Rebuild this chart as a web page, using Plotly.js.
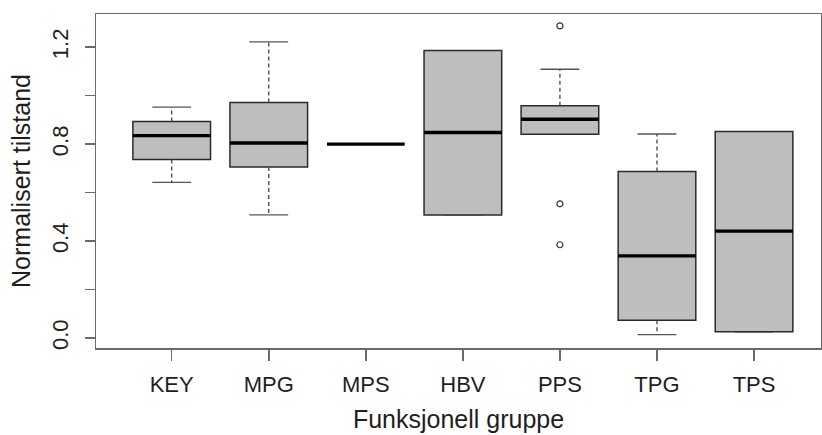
<!DOCTYPE html>
<html>
<head>
<meta charset="utf-8">
<script src="https://cdn.plot.ly/plotly-3.0.1.min.js"></script>
<style>html,body{margin:0;padding:0;background:#fff;}#chart{width:822px;height:435px;}</style>
</head>
<body>
<div id="chart"></div>
<script>
// Data
const categories = ["KEY", "MPG", "MPS", "HBV", "PPS", "TPG", "TPS"];
const lowerWhisker = [0.642, 0.508, 0.800, 0.508, 0.841, 0.014, 0.026];
const q1Values     = [0.737, 0.706, 0.800, 0.508, 0.841, 0.073, 0.026];
const medianValues = [0.835, 0.805, 0.800, 0.848, 0.903, 0.339, 0.441];
const q3Values     = [0.893, 0.972, 0.800, 1.186, 0.958, 0.687, 0.852];
const upperWhisker = [0.953, 1.222, 0.800, 1.186, 1.109, 0.842, 0.852];
const outlierCats  = ["PPS", "PPS", "PPS"];
const outlierVals  = [1.288, 0.554, 0.385];
const yTickVals    = [0.0, 0.2, 0.4, 0.6, 0.8, 1.0, 1.2];
const yTickText    = ["0.0", "", "0.4", "", "0.8", "", "1.2"];

const boxLine = "#2b2b2b";
const fontFam = "Liberation Sans, Arial, sans-serif";

// whiskers (dashed)
const wx = [], wy = [];
categories.forEach((c, i) => {
  if (upperWhisker[i] > q3Values[i]) { wx.push(c, c, null); wy.push(q3Values[i], upperWhisker[i], null); }
  if (lowerWhisker[i] < q1Values[i]) { wx.push(c, c, null); wy.push(q1Values[i], lowerWhisker[i], null); }
});

function flatBox(vals, width, lw, color) {
  return {
    type: "box", x: categories,
    q1: vals, median: vals, q3: vals, lowerfence: vals, upperfence: vals,
    width: width, whiskerwidth: 0, boxpoints: false,
    line: {color: color, width: lw}, fillcolor: "rgba(0,0,0,0)",
    hoverinfo: "skip", showlegend: false
  };
}

const traces = [
  {
    type: "scatter", mode: "lines", x: wx, y: wy,
    line: {color: "#444", width: 1.3, dash: "4px,3px"},
    hoverinfo: "skip", showlegend: false
  },
  flatBox(upperWhisker, 0.4, 1.3, "#555"),
  flatBox(lowerWhisker, 0.4, 1.3, "#555"),
  {
    type: "box", x: categories,
    q1: q1Values, median: medianValues, q3: q3Values,
    lowerfence: q1Values, upperfence: q3Values,
    width: 0.8, whiskerwidth: 0, boxpoints: false,
    line: {color: boxLine, width: 1.5}, fillcolor: "#bebebe",
    showlegend: false
  },
  flatBox(medianValues, 0.8, 3.4, "#000"),
  {
    type: "scatter", mode: "markers", x: outlierCats, y: outlierVals,
    marker: {symbol: "circle-open", size: 6, color: "#333", line: {width: 1.2}},
    showlegend: false
  }
];

const layout = {
  width: 822, height: 435,
  margin: {l: 96, r: 1, t: 14, b: 87},
  paper_bgcolor: "#fff", plot_bgcolor: "#fff",
  boxmode: "overlay",
  showlegend: false,
  font: {family: fontFam, color: "#1e1e1e"},
  xaxis: {
    type: "category", categoryorder: "array", categoryarray: categories,
    range: [-0.78, 6.69],
    showgrid: false, zeroline: false,
    showline: true, mirror: true, linecolor: "#6a6a6a", linewidth: 1.5,
    ticks: "outside", ticklen: 11, tickcolor: "#6a6a6a", tickwidth: 1.5,
    tickfont: {size: 22, color: "#1e1e1e"}, ticklabelstandoff: 5,
    title: {text: "Funksjonell gruppe", font: {size: 25, color: "#1e1e1e"}, standoff: 14}
  },
  yaxis: {
    range: [-0.041, 1.337],
    tickmode: "array", tickvals: yTickVals, ticktext: yTickText,
    tickangle: -90,
    showgrid: false, zeroline: false,
    showline: true, mirror: true, linecolor: "#6a6a6a", linewidth: 1.5,
    ticks: "outside", ticklen: 10, tickcolor: "#6a6a6a", tickwidth: 1.5,
    tickfont: {size: 22, color: "#1e1e1e"}, ticklabelstandoff: 8,
    title: {text: "Normalisert tilstand", font: {size: 25, color: "#1e1e1e"}, standoff: 10}
  }
};

Plotly.newPlot("chart", traces, layout, {staticPlot: true, displayModeBar: false});
</script>
</body>
</html>
